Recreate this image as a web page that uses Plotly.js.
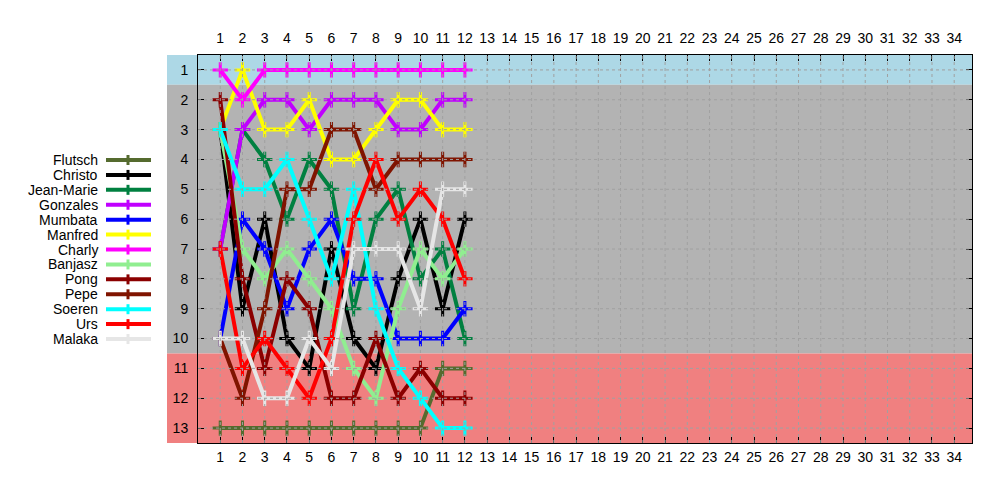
<!DOCTYPE html>
<html>
<head>
<meta charset="utf-8">
<script src="https://cdn.plot.ly/plotly-3.0.1.min.js"></script>
<style>html,body{margin:0;padding:0;background:#fff;}#chart{width:1000px;height:500px;}</style>
</head>
<body>
<div id="chart"></div>
<script>
// ---- data ----
var matchdays = [1,2,3,4,5,6,7,8,9,10,11,12];
var xTicks = [];
for (var t = 1; t <= 34; t++) xTicks.push(t);
var yTicks = [1,2,3,4,5,6,7,8,9,10,11,12,13];

var teamNames = ["Flutsch","Christo","Jean-Marie","Gonzales","Mumbata","Manfred","Charly","Banjasz","Pong","Pepe","Soeren","Urs","Malaka"];
var teamColors = ["#556b2f","#000000","#008040","#c000ff","#0000ff","#ffff00","#ff00ff","#90ee90","#8b0000","#801400","#00ffff","#ff0000","#e6e6e6"];

var flutsch   = [13,13,13,13,13,13,13,13,13,13,11,11];
var christo   = [3,9,6,10,11,7,10,11,8,6,9,6];
var jeanMarie = [7,3,4,6,4,5,9,6,5,8,7,10];
var gonzales  = [7,3,2,2,3,2,2,2,3,3,2,2];
var mumbata   = [10,6,7,9,7,6,8,8,10,10,10,9];
var manfred   = [3,1,3,3,2,4,4,3,2,2,3,3];
var charly    = [1,2,1,1,1,1,1,1,1,1,1,1];
var banjasz   = [3,7,8,7,8,9,11,12,9,7,8,7];
var pong      = [2,8,11,8,9,12,12,10,12,11,12,12];
var pepe      = [10,12,9,5,5,3,3,5,4,4,4,4];
var soeren    = [3,5,5,4,6,8,5,9,11,12,13,13];
var urs       = [7,11,10,11,12,10,6,4,6,5,6,8];
var malaka    = [10,10,12,12,10,11,7,7,7,9,5,5];

var teamSeries = [flutsch,christo,jeanMarie,gonzales,mumbata,manfred,charly,banjasz,pong,pepe,soeren,urs,malaka];

// ---- geometry (pixel layout of the figure) ----
var W = 1000, H = 500;
var L = 198, R = 972, T = 55, B = 443;
var yMin = 0.5, yMax = 13.5;
function px2paperX(px){ return (px - L) / (R - L); }
function py2paperY(py){ return (B - py) / (B - T); }
function val2paperY(v){ return (yMax - v) / (yMax - yMin); }

var traces = [];
for (var i = 0; i < teamNames.length; i++) {
  traces.push({
    type: 'scatter', mode: 'lines+markers', name: teamNames[i],
    x: matchdays, y: teamSeries[i],
    line: {color: teamColors[i], width: 4},
    marker: {symbol: 'cross-thin-open', size: 11, color: teamColors[i], line: {color: teamColors[i], width: 3}},
    showlegend: false, hoverinfo: 'name+y'
  });
}
// empty trace to register the top axis
traces.push({type:'scatter', x: [], y: [], xaxis: 'x2', showlegend: false, hoverinfo: 'skip'});

var shapes = [];
var bandX0 = px2paperX(167);
// background bands
shapes.push({type:'rect', xref:'paper', yref:'paper', x0:bandX0, x1:1, y0:val2paperY(1.5), y1:1, fillcolor:'#add8e6', line:{width:0}, layer:'below'});
shapes.push({type:'rect', xref:'paper', yref:'paper', x0:bandX0, x1:1, y0:val2paperY(10.5), y1:val2paperY(1.5), fillcolor:'#b3b3b3', line:{width:0}, layer:'below'});
shapes.push({type:'rect', xref:'paper', yref:'paper', x0:bandX0, x1:1, y0:0, y1:val2paperY(10.5), fillcolor:'#f08080', line:{width:0}, layer:'below'});

// grid in front
var gridColor = '#a0a0a0';
xTicks.forEach(function(v){
  shapes.push({type:'line', xref:'x', yref:'paper', x0:v, x1:v, y0:0, y1:1, line:{color:gridColor, width:1, dash:'3px,3px'}, layer:'above'});
});
yTicks.forEach(function(v){
  shapes.push({type:'line', xref:'paper', yref:'paper', x0:0, x1:1, y0:val2paperY(v), y1:val2paperY(v), line:{color:gridColor, width:1, dash:'3px,3px'}, layer:'above'});
});

// manual legend (text left of sample)
var annotations = [];
var legTop = 160, legStep = 14.92;
for (var k = 0; k < teamNames.length; k++) {
  var py = legTop + k * legStep;
  var yp = py2paperY(py);
  annotations.push({xref:'paper', yref:'paper', x:px2paperX(100), y:yp, xanchor:'right', yanchor:'middle', text:teamNames[k], showarrow:false, font:{family:'Liberation Sans, Arial, sans-serif', size:14, color:'#000'}});
  shapes.push({type:'line', xref:'paper', yref:'paper', x0:px2paperX(106), x1:px2paperX(151), y0:yp, y1:yp, line:{color:teamColors[k], width:4}});
  shapes.push({type:'line', xref:'paper', yref:'paper', x0:px2paperX(128), x1:px2paperX(128), y0:py2paperY(py-5), y1:py2paperY(py+5), line:{color:teamColors[k], width:3}});
}

var tickFont = {family:'Liberation Sans, Arial, sans-serif', size:14, color:'#000'};
var layout = {
  width: W, height: H,
  margin: {l: L, r: W - R, t: T, b: H - B, pad: 0},
  paper_bgcolor: '#ffffff', plot_bgcolor: 'rgba(0,0,0,0)',
  showlegend: false,
  xaxis: {range:[0, 34.8], tickmode:'array', tickvals:xTicks, ticktext:xTicks.map(String), ticks:'inside', ticklen:6, tickcolor:'#000',
          showline:true, linecolor:'#000', linewidth:1, mirror:true, showgrid:false, zeroline:false, tickfont:tickFont, fixedrange:true, ticklabelstandoff:1},
  xaxis2: {range:[0, 34.8], overlaying:'x', side:'top', anchor:'y', tickmode:'array', tickvals:xTicks, ticktext:xTicks.map(String), ticks:'inside', ticklen:6, tickcolor:'#000',
          showline:false, showgrid:false, zeroline:false, tickfont:tickFont, fixedrange:true, ticklabelstandoff:8},
  yaxis: {range:[yMax, yMin], tickmode:'array', tickvals:yTicks, ticktext:yTicks.map(String), ticks:'inside', ticklen:6, tickcolor:'#000',
          showline:true, linecolor:'#000', linewidth:1, mirror:'ticks', showgrid:false, zeroline:false, tickfont:tickFont, fixedrange:true, ticklabelstandoff:6},
  shapes: shapes,
  annotations: annotations
};

Plotly.newPlot('chart', traces, layout, {displayModeBar:false, staticPlot:true});
</script>
</body>
</html>
